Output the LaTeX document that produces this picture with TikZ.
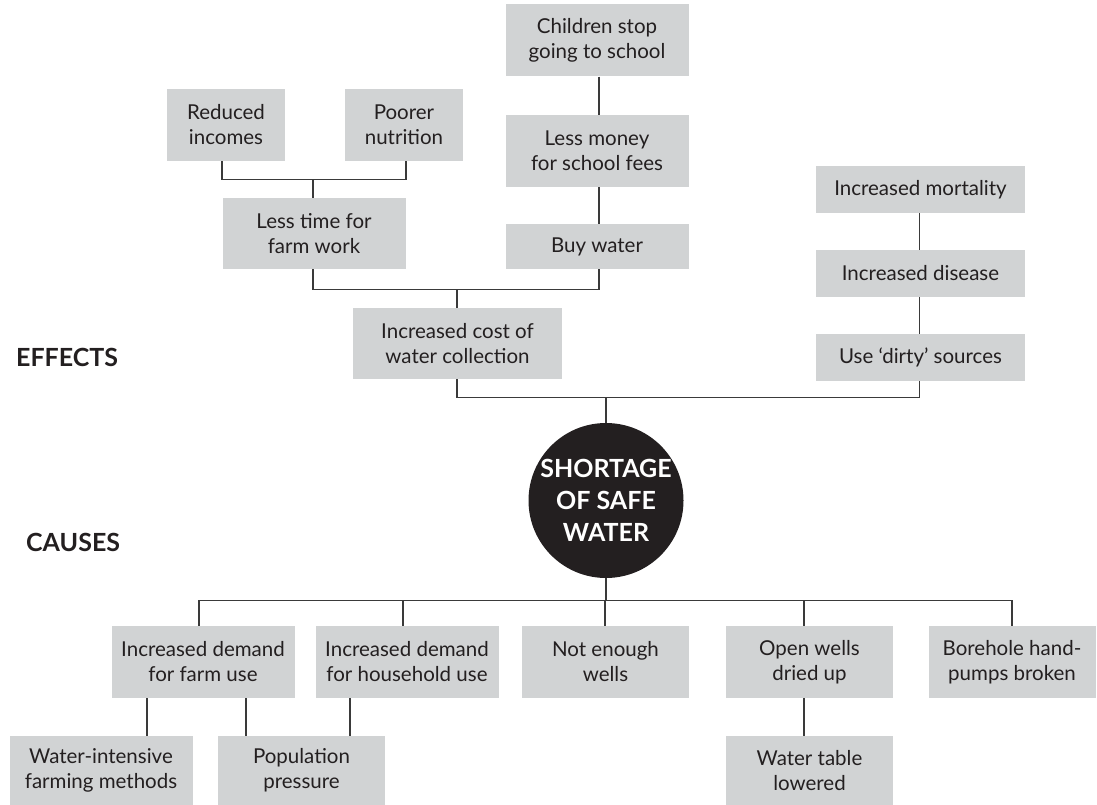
\documentclass[tikz,border=0pt]{standalone}
\usepackage{fontspec}
\setmainfont{Lato}
\definecolor{boxgray}{HTML}{D1D3D4}
\definecolor{ink}{HTML}{231F20}
\definecolor{wire}{HTML}{3A3A3A}

\begin{document}
\begin{tikzpicture}[x=1pt,y=-1pt,
  box/.style={fill=boxgray, text=ink, inner sep=0pt, align=center,
              minimum width=183pt, minimum height=72pt,
              font=\fontsize{20.5}{25}\selectfont},
  wide/.style={box, minimum width=209pt},
  slim/.style={wide, minimum height=47pt},
  narrow/.style={box, minimum width=118pt},
  short/.style={box, minimum width=167pt},
  link/.style={draw=wire, line width=1.2pt},
  heading/.style={text=ink, inner sep=0pt, font=\bfseries\fontsize{25}{30}\selectfont},
]
\useasboundingbox (0,0) rectangle (1097,805);

% ---------- effects ----------
\node[box]    (children)  at (597,40.5)  {Children stop\\going to school};
\node[narrow] (reduced)   at (226,125)   {Reduced\\incomes};
\node[narrow] (poorer)    at (404,125)   {Poorer\\nutrition};
\node[box]    (money)     at (597,151)   {Less money\\for school fees};
\node[box, minimum height=71pt] (lesstime) at (314,233.5) {Less time for\\farm work};
\node[box, minimum height=45pt] (buy) at (597,246.5) {Buy water};
\node[slim]   (mortality) at (920.5,189.5) {Increased mortality};
\node[slim]   (disease)   at (920.5,273.5) {Increased disease};
\node[slim]   (dirty)     at (920.5,357.5) {Use ‘dirty’ sources};
\node[wide, minimum height=71pt] (cost) at (457.5,343.5) {Increased cost of\\water collection};

% ---------- centre ----------
\node[circle, fill=ink, minimum size=155pt, inner sep=0pt, text=white, align=center,
      font=\bfseries\fontsize{25}{32}\selectfont] (core) at (606,500.5)
      {SHORTAGE\\OF SAFE\\WATER};

% ---------- causes ----------
\node[box]   (farm)       at (203,662)    {Increased demand\\for farm use};
\node[box]   (household)  at (407,662)    {Increased demand\\for household use};
\node[short] (wells)      at (605.5,662)  {Not enough\\wells};
\node[short] (open)       at (809.5,662)  {Open wells\\dried up};
\node[short] (borehole)   at (1012,662)   {Borehole hand-\\pumps broken};
\node[box, minimum height=69pt]   (intensive)  at (101,770.5)   {Water-intensive\\farming methods};
\node[short, minimum height=69pt] (population) at (301.5,770.5) {Population\\pressure};
\node[short, minimum height=69pt] (table)      at (809.5,770.5) {Water table\\lowered};

% ---------- side headings ----------
\node[heading, anchor=base west] (effects) at (16,366) {EFFECTS};
\node[heading, anchor=base west] (causes)  at (26,551) {CAUSES};

% ---------- connectors above the centre ----------
\draw[link] ([xshift=-4pt]reduced.south) -- ++(0,18) -| ([xshift=2pt]poorer.south);
\draw[link] ([xshift=-1pt]lesstime.north) -- ++(0,-19);
\draw[link] ([xshift=2pt]children.south) -- ([xshift=2pt]money.north);
\draw[link] ([xshift=2pt]money.south) -- ([xshift=2pt]buy.north);
\draw[link] ([xshift=-1pt]lesstime.south) -- ++(0,20) -| ([xshift=2pt]buy.south);
\draw[link] ([xshift=-0.5pt]cost.north) -- ++(0,-19);
\draw[link] ([xshift=-1pt]mortality.south) -- ([xshift=-1pt]disease.north);
\draw[link] ([xshift=-1pt]disease.south) -- ([xshift=-1pt]dirty.north);
\draw[link] ([xshift=-0.5pt]cost.south) -- ++(0,18) -| ([xshift=-1pt]dirty.south);
\draw[link] (core.north) -- ++(0,-26);

% ---------- connectors below the centre ----------
\draw[link] (core.south) -- ++(0,23);
\draw[link] ([xshift=-4pt]farm.north) -- ++(0,-25) -| (borehole.north);
\draw[link] ([xshift=-4pt]household.north) -- ++(0,-25);
\draw[link] ([xshift=-0.5pt]wells.north) -- ++(0,-25);
\draw[link] ([xshift=-5.5pt]open.north) -- ++(0,-25);
\draw[link] ([xshift=-56pt]farm.south) -- ([xshift=-56pt]farm.south |- intensive.north);
\draw[link] ([xshift=43pt]farm.south) -- ([xshift=43pt]farm.south |- population.north);
\draw[link] ([xshift=-57pt]household.south) -- ([xshift=-57pt]household.south |- population.north);
\draw[link] ([xshift=-5.5pt]open.south) -- ([xshift=-5.5pt]open.south |- table.north);
\end{tikzpicture}
\end{document}
